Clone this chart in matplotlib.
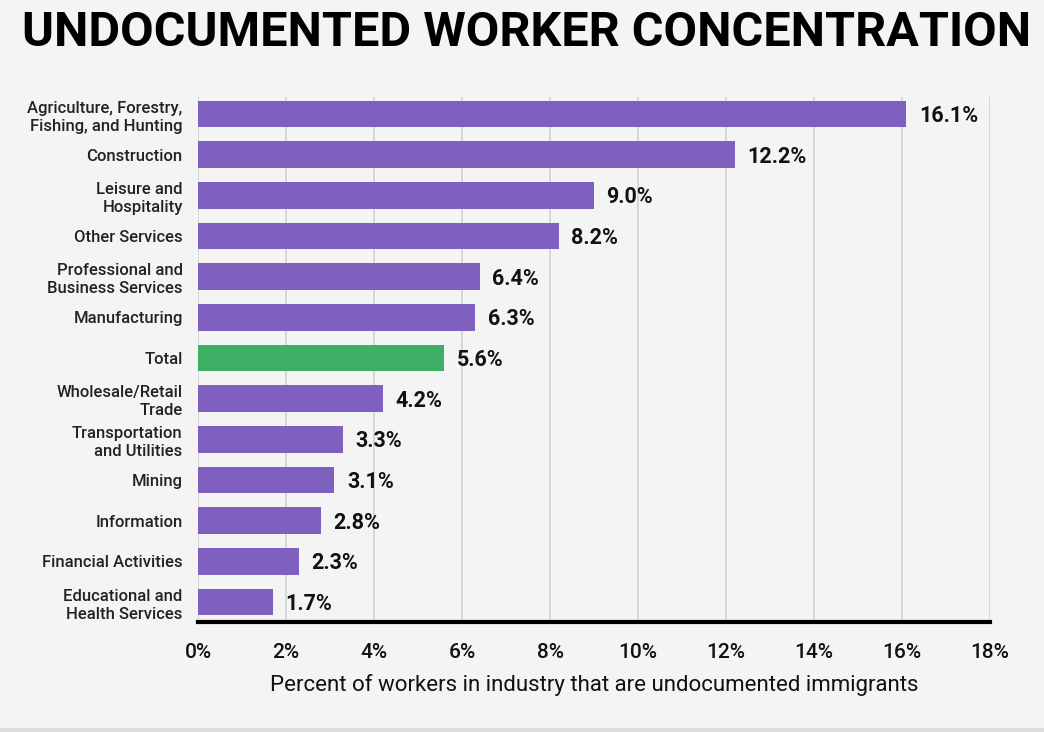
import matplotlib
matplotlib.use("Agg")
import matplotlib.pyplot as plt
from matplotlib.ticker import FuncFormatter
from matplotlib.patches import Rectangle

categories = [
    "Agriculture, Forestry,\nFishing, and Hunting",
    "Construction",
    "Leisure and\nHospitality",
    "Other Services",
    "Professional and\nBusiness Services",
    "Manufacturing",
    "Total",
    "Wholesale/Retail\nTrade",
    "Transportation\nand Utilities",
    "Mining",
    "Information",
    "Financial Activities",
    "Educational and\nHealth Services",
]
values = [16.1, 12.2, 9.0, 8.2, 6.4, 6.3, 5.6, 4.2, 3.3, 3.1, 2.8, 2.3, 1.7]
xticks = [0, 2, 4, 6, 8, 10, 12, 14, 16, 18]

purple = "#7f60bf"
green = "#3db065"
bg = "#f4f4f4"

plt.rcParams['font.family'] = ['Roboto', 'DejaVu Sans']

fig = plt.figure(figsize=(10.44, 7.32), dpi=100, facecolor=bg)
ax = fig.add_axes([198/1044, 1-622/732, (990-198)/1044, (622-97)/732])
ax.set_facecolor(bg)

colors = [green if c == "Total" else purple for c in categories]
y = list(range(len(categories)))
ax.barh(y, values, height=0.66, color=colors, zorder=3)

for yi, v in zip(y, values):
    ax.annotate(f"{v:.1f}%", (v, yi), xytext=(9, -1.5), textcoords="offset points",
                ha="left", va="center", fontsize=15.5, fontweight="bold", color="#111111", zorder=4)

ax.set_xlim(0, 18)
ax.set_ylim(12.49, -0.42)
ax.set_xticks(xticks)
ax.xaxis.set_major_formatter(FuncFormatter(lambda x, p: f"{x:.0f}%"))
ax.set_yticks(y)
ax.set_yticklabels(categories, fontsize=12, fontweight=500, color="#222222", linespacing=1.25)
ax.tick_params(axis="y", length=0, pad=11)
ax.tick_params(axis="x", length=0, pad=15, labelsize=15, labelcolor="#111111")
for lbl in ax.get_xticklabels():
    lbl.set_fontweight(500)

ax.grid(axis="x", color="#d2d2d2", linewidth=1.2, zorder=0)
for s in ["top", "right", "left"]:
    ax.spines[s].set_visible(False)
ax.spines["bottom"].set_linewidth(3)
ax.spines["bottom"].set_color("#000000")
ax.spines["bottom"].set_zorder(5)

ax.set_xlabel("Percent of workers in industry that are undocumented immigrants",
              fontsize=16, color="#111111", labelpad=9)

fig.text(22/1044, 1-33/732, "UNDOCUMENTED WORKER CONCENTRATION", fontsize=35,
         fontweight="bold", ha="left", va="center", color="#000000")

fig.patches.append(Rectangle((0, 0), 1, 4/732, transform=fig.transFigure,
                             color="#dcdcdc", zorder=0))

fig.savefig("out.png", dpi=100, facecolor=bg)
